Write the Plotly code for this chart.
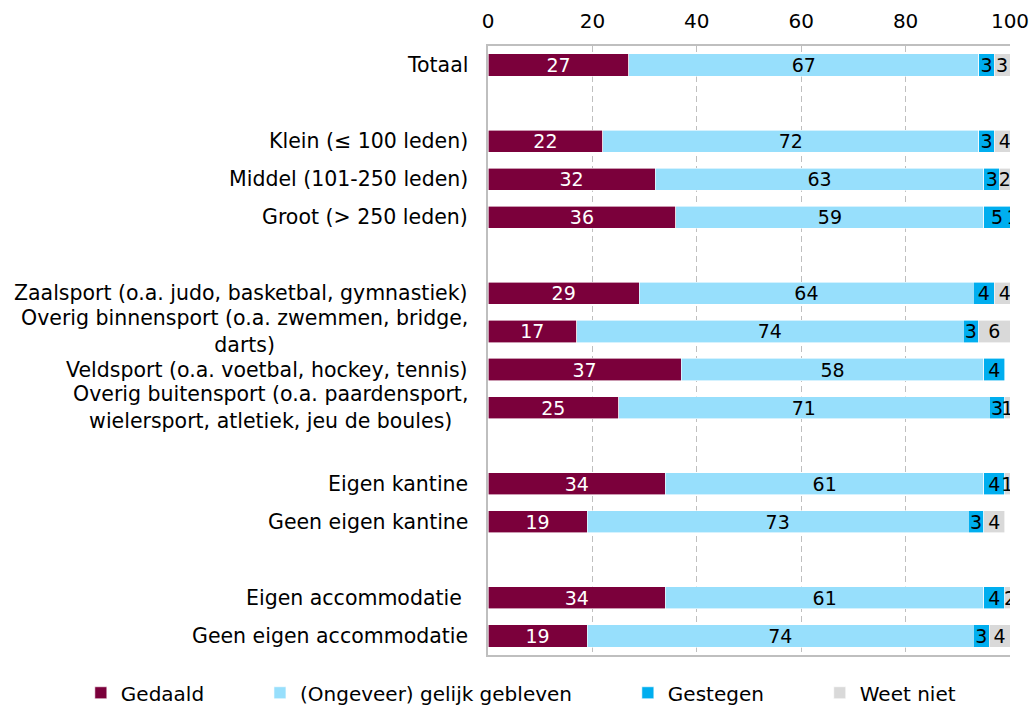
import plotly.graph_objects as go

# Rows top to bottom; "" marks an empty spacer row
row_labels = [
    "Totaal",
    "",
    "Klein (≤ 100 leden)",
    "Middel (101-250 leden)",
    "Groot (> 250 leden)",
    "",
    "Zaalsport (o.a. judo, basketbal, gymnastiek)",
    "Overig binnensport (o.a. zwemmen, bridge,<br>darts)",
    "Veldsport (o.a. voetbal, hockey, tennis)",
    "Overig buitensport (o.a. paardensport,<br>wielersport, atletiek, jeu de boules)",
    "",
    "Eigen kantine",
    "Geen eigen kantine",
    "",
    "Eigen accommodatie ",
    "Geen eigen accommodatie",
]

gedaald = [27, None, 22, 32, 36, None, 29, 17, 37, 25, None, 34, 19, None, 34, 19]
gelijk = [67, None, 72, 63, 59, None, 64, 74, 58, 71, None, 61, 73, None, 61, 74]
gestegen = [3, None, 3, 3, 5, None, 4, 3, 4, 3, None, 4, 3, None, 4, 3]
weet_niet = [3, None, 4, 2, 1, None, 4, 6, None, 1, None, 1, 4, None, 2, 4]

series_names = ["Gedaald", "(Ongeveer) gelijk gebleven", "Gestegen", "Weet niet"]
series_values = [gedaald, gelijk, gestegen, weet_niet]
series_colors = ["#7B003B", "#97DFFC", "#00AEEF", "#D9D9D9"]
text_colors = ["white", "black", "black", "black"]
legend_pad = [8, 8, 8, 0]

x_ticks = [0, 20, 40, 60, 80, 100]

FONT = "DejaVu Sans"
row_keys = [f"r{i}" for i in range(len(row_labels))]

fig = go.Figure()
for name, vals, col, tcol, pad in zip(series_names, series_values, series_colors, text_colors, legend_pad):
    fig.add_trace(go.Bar(
        y=row_keys,
        x=vals,
        orientation="h",
        name=name + "\u00a0" * pad,
        marker=dict(color=col, line=dict(color="white", width=0.6)),
        text=["" if v is None else str(v) for v in vals],
        textposition="inside",
        insidetextanchor="middle",
        constraintext="none",
        textangle=0,
        insidetextfont=dict(family=FONT, size=19, color=tcol),
        hoverinfo="x+name",
    ))

for key, lab in zip(row_keys, row_labels):
    if lab:
        fig.add_annotation(
            x=0, xref="paper", y=key, yref="y",
            text=lab, showarrow=False, xanchor="right", yanchor="middle",
            align="center", xshift=-18,
            font=dict(family=FONT, size=20.5, color="black"),
        )

fig.update_layout(
    barmode="stack",
    bargap=0.42,
    width=1032, height=709,
    margin=dict(l=488, r=22, t=46, b=54, autoexpand=False),
    plot_bgcolor="white", paper_bgcolor="white",
    font=dict(family=FONT, size=20, color="black"),
    showlegend=True,
    legend=dict(
        orientation="h", x=-0.78, xanchor="left", y=-0.062, yanchor="middle",
        font=dict(family=FONT, size=20, color="black"),
        itemclick=False, traceorder="normal",
    ),
    xaxis=dict(
        side="top", range=[0, 100], tickvals=x_ticks,
        ticktext=[str(t) for t in x_ticks],
        showgrid=True, gridcolor="#BFBFBF", griddash="6px,4px", gridwidth=1.3,
        showline=True, linecolor="#BFBFBF", linewidth=1.5, mirror=True,
        ticks="inside", ticklen=5, tickcolor="#BFBFBF",
        ticklabelstandoff=8,
        tickfont=dict(family=FONT, size=20, color="black"),
        zeroline=False, fixedrange=True,
    ),
    yaxis=dict(
        type="category", categoryorder="array", categoryarray=row_keys,
        autorange="reversed", showticklabels=False, showgrid=False,
        showline=True, linecolor="#BFBFBF", linewidth=1.5,
        ticks="", zeroline=False, fixedrange=True,
    ),
)

fig.write_html(
    "out.html",
    config={"displayModeBar": False},
    post_script="document.body.style.margin='0px';",
)
